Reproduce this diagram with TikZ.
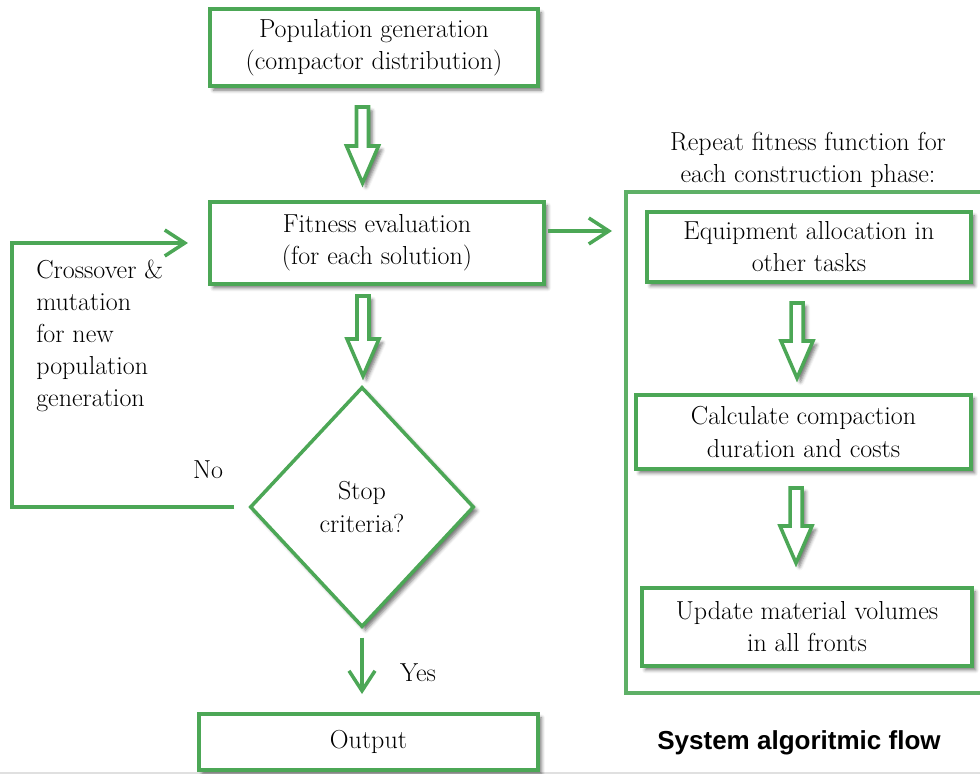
\documentclass[tikz,border=0pt]{standalone}
\usepackage{fontspec}
\newfontfamily\capfont{Liberation Sans}
\usetikzlibrary{shapes.geometric}
\usetikzlibrary{arrows.meta}
\usetikzlibrary{calc}
\usetikzlibrary{shadows.blur}
\definecolor{flowgreen}{RGB}{76,167,86}
\tikzset{
    soft/.style = {blur shadow={shadow xshift=2.5pt, shadow yshift=-2.8pt, shadow blur radius=2.5pt, shadow opacity=55}},
    box/.style = {rectangle, line width=2.8pt, draw=flowgreen, fill=white, align=center, soft},
    decision/.style = {diamond, line width=2.5pt, draw=flowgreen, fill=white, align=center, inner sep=0pt, minimum width=5.6cm, minimum height=6cm, soft},
    plain/.style = {align=center, inner sep=0pt},
    title/.style = {inner sep=0pt, font=\capfont\bfseries\fontsize{18.5}{22}\selectfont},
    frame/.style = {line width=2.3pt, draw=flowgreen!90},
    hollow/.style = {line width=2.5pt, draw=flowgreen, fill=white, line join=miter, soft},
    edgeg/.style = {line width=2.5pt, draw=flowgreen, -{Straight Barb[length=5mm,width=6.5mm]}}
}
% hollow block arrow from #1 (top) down to #2 (tip)
\newcommand{\hollowarrow}[2]{%
  \draw[hollow] ($(#1)+(-6,0)$) -- ($(#1)+(6,0)$) -- ($(#2)+(6,-37)$) -- ($(#2)+(16,-37)$)
    -- (#2) -- ($(#2)+(-16,-37)$) -- ($(#2)+(-6,-37)$) -- cycle;}

\begin{document}
\begin{tikzpicture}[x=0.025cm, y=-0.025cm, font=\fontsize{18.5}{22.8}\selectfont]
\useasboundingbox (0,0) rectangle (980,774);
\draw[black!12, line width=1.5pt] (0,773) -- (980,773);
%
\node[box, minimum width=8.2cm, minimum height=1.93cm] at (374,47.5) (pop) {Population generation\\(compactor distribution)};
\node[box, minimum width=8.35cm, minimum height=2.05cm] at (377,243) (fit) {Fitness evaluation\\(for each solution)};
\node[decision] at (362,507) (stop) {Stop\\criteria?};
\node[box, minimum width=8.47cm, minimum height=1.4cm] at (368.5,742) (out) {Output};
%
\node[plain, align=left, anchor=west] at (36,336) (cross) {Crossover \&\\mutation\\for new\\population\\generation};
\node[plain] at (208,470) (no) {No};
\node[plain] at (418,673) (yes) {Yes};
%
\node[plain] at (808,160) (rep) {Repeat fitness function for\\each construction phase:};
\draw[frame] (626,192) rectangle (1000,693);
\node[box, minimum width=8.1cm, minimum height=1.75cm] at (809,247) (equ) {Equipment allocation in\\other tasks};
\node[box, minimum width=8.38cm, minimum height=1.85cm] at (803.5,432) (cal) {Calculate compaction\\duration and costs};
\node[box, minimum width=8.25cm, minimum height=1.95cm] at (807,627) (upd) {Update material volumes\\in all fronts};
\node[title] at (799,743) (cap) {System algoritmic flow};
%
\coordinate (a1) at (362.5,107); \coordinate (a1e) at (362.5,183);
\coordinate (a2) at (363,296);   \coordinate (a2e) at (363,376);
\coordinate (a3) at (797,303);   \coordinate (a3e) at (797,378);
\coordinate (a4) at (796,488);   \coordinate (a4e) at (796,563);
\hollowarrow{a1}{a1e}
\hollowarrow{a2}{a2e}
\hollowarrow{a3}{a3e}
\hollowarrow{a4}{a4e}
%
\coordinate (lp) at (12,507);
\coordinate (eqin) at (612,231);
\draw[edgeg] ($(fit.east)+(2,-12)$) -- (eqin);
\draw[edgeg, shorten <=0.35cm, shorten >=0.5cm] (stop.west) -- (lp) |- (fit.west);
\draw[edgeg, shorten <=0.22cm, shorten >=0.45cm] (stop.south) -- (stop.south |- out.north);

\end{tikzpicture}
\end{document}
